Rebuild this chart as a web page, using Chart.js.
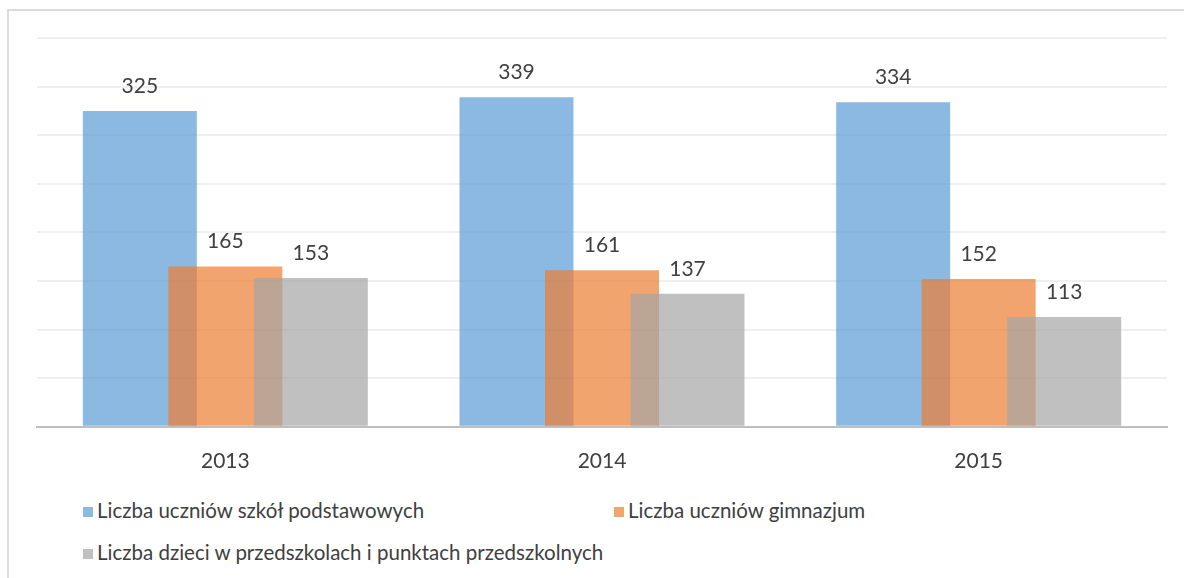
<!DOCTYPE html>
<html>
<head>
<meta charset="utf-8">
<script src="https://cdn.jsdelivr.net/npm/chart.js@4"></script>
<style>
  body { margin: 0; background: #fff; width: 1184px; height: 578px; overflow: hidden; position: relative; font-family: Lato, "Noto Sans", sans-serif; color: #404040; }
  #ramka { position: absolute; left: 7px; top: 9px; width: 1300px; height: 700px; border: 2px solid #dcdcdc; }
  #chart { position: absolute; left: 0; top: 0; }
  .leg { position: absolute; font-size: 20.5px; white-space: nowrap; line-height: 20px; }
  .leg i { display: inline-block; width: 10px; height: 10px; margin-right: 4px; vertical-align: 1px; }
</style>
</head>
<body>
<div id="ramka"></div>
<canvas id="chart" width="1184" height="496"></canvas>
<div id="legenda"></div>
<script>
// dane
const lata = ["2013", "2014", "2015"];
const podstawowe = [325, 339, 334];
const gimnazjum = [165, 161, 152];
const przedszkola = [153, 137, 113];
const nazwy = [
  "Liczba uczniów szkół podstawowych",
  "Liczba uczniów gimnazjum",
  "Liczba dzieci w przedszkolach i punktach przedszkolnych"
];
const kolory = ["rgba(91,155,213,0.7)", "rgba(237,125,49,0.7)", "rgba(165,165,165,0.7)"];

const ctx = document.getElementById("chart").getContext("2d");

// rysujemy serie od pierwszej do ostatniej, zeby kolejne nachodzily na poprzednie
const kolejnosc = {
  id: "kolejnosc",
  beforeDatasetDraw() { return false; },
  afterDatasetsDraw(chart) {
    chart.data.datasets.forEach((ds, i) => chart.getDatasetMeta(i).controller.draw());
  }
};

// etykiety nad slupkami
const etykiety = {
  id: "etykiety",
  afterDatasetsDraw(chart) {
    const c = chart.ctx;
    c.save();
    c.font = "21px Lato";
    c.fillStyle = "#404040";
    c.textAlign = "center";
    c.textBaseline = "alphabetic";
    chart.data.datasets.forEach((ds, i) => {
      chart.getDatasetMeta(i).data.forEach((bar, j) => {
        c.fillText(ds.data[j], bar.x, bar.y - 18);
      });
    });
    c.restore();
  }
};

const chart = new Chart(ctx, {
  type: "bar",
  data: {
    labels: lata,
    datasets: [
      { label: nazwy[0], data: podstawowe, backgroundColor: kolory[0] },
      { label: nazwy[1], data: gimnazjum, backgroundColor: kolory[1] },
      { label: nazwy[2], data: przedszkola, backgroundColor: kolory[2] }
    ]
  },
  options: {
    responsive: false,
    animation: false,
    categoryPercentage: 0.681,
    barPercentage: 1.333,
    layout: { padding: { left: 37, right: 17, top: 38, bottom: 0 } },
    plugins: { legend: { display: false }, tooltip: { enabled: false } },
    scales: {
      x: {
        grid: { display: false, drawTicks: false },
        border: { display: true, color: "#bfbfbf", width: 2 },
        ticks: { color: "#404040", font: { family: "Lato", size: 21 }, padding: 22 }
      },
      y: {
        min: 0, max: 400,
        ticks: { display: false, stepSize: 50 },
        grid: { color: "#efefef", lineWidth: 2, drawTicks: false },
        border: { display: false }
      }
    }
  },
  plugins: [kolejnosc, etykiety]
});

// legenda w html
const pozycje = [[83, 500], [614, 500], [83, 542]];
const leg = document.getElementById("legenda");
nazwy.forEach((n, i) => {
  const d = document.createElement("div");
  d.className = "leg";
  d.style.left = pozycje[i][0] + "px";
  d.style.top = pozycje[i][1] + "px";
  d.innerHTML = '<i style="background:' + kolory[i] + '"></i>' + n;
  leg.appendChild(d);
});
</script>
</body>
</html>
